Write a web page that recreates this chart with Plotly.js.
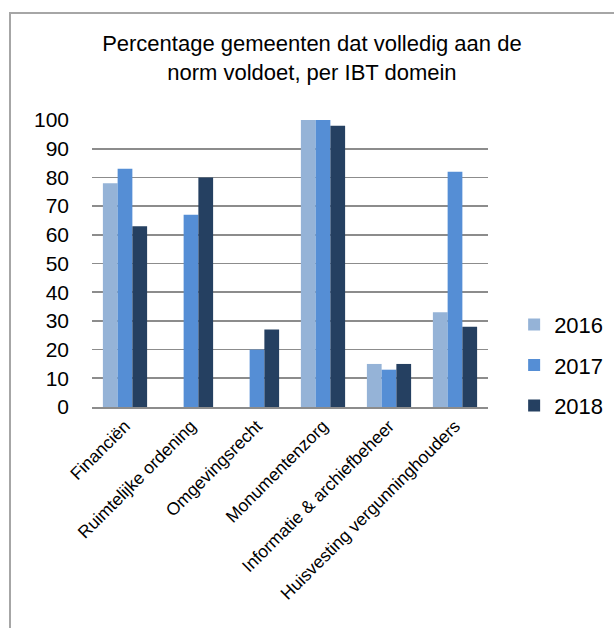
<!DOCTYPE html>
<html>
<head>
<meta charset="utf-8">
<script src="https://cdn.plot.ly/plotly-3.0.1.min.js"></script>
<style>
html,body{margin:0;padding:0;background:#fff;overflow:hidden;width:614px;height:628px;}
#chart{position:absolute;left:0;top:0;width:614px;height:628px;}
#frame{position:absolute;left:9px;top:12px;width:800px;height:800px;border-left:2px solid #a6a6a6;border-top:2px solid #a6a6a6;box-sizing:border-box;pointer-events:none;}
</style>
</head>
<body>
<div id="chart"></div>
<div id="frame"></div>
<script>
const categories = ["Financiën","Ruimtelijke ordening","Omgevingsrecht","Monumentenzorg","Informatie &amp; archiefbeheer","Huisvesting vergunninghouders"];
const years = ["2016","2017","2018"];
const values2016 = [78, null, null, 100, 15, 33];
const values2017 = [83, 67, 20, 100, 13, 82];
const values2018 = [63, 80, 27, 98, 15, 28];
const colors = ["#95b3d7","#558ed5","#254061"];

const series = [values2016, values2017, values2018];
const traces = series.map((vals, i) => ({
  type: "bar",
  name: years[i],
  x: categories,
  y: vals,
  marker: {color: colors[i], line: {width: 0}},
  legendgroup: "g" + i,
  hoverinfo: "y"
}));

const layout = {
  width: 614,
  height: 628,
  paper_bgcolor: "#ffffff",
  plot_bgcolor: "#ffffff",
  font: {family: "Liberation Sans, Arial, sans-serif", color: "#000000"},
  margin: {l: 92, r: 126, t: 120, b: 221, pad: 0, autoexpand: false},
  title: {
    text: "Percentage gemeenten dat volledig aan de<br>norm voldoet, per IBT domein",
    font: {size: 22, color: "#000000"},
    x: 0.508, xanchor: "center",
    y: 0.918, yanchor: "middle"
  },
  bargap: 0.33,
  bargroupgap: 0,
  barmode: "group",
  xaxis: {
    type: "category",
    tickangle: -45,
    tickfont: {size: 17.5},
    showgrid: false,
    showline: true,
    linecolor: "#8c8c8c",
    linewidth: 2,
    ticks: "",
    automargin: false,
    fixedrange: true
  },
  yaxis: {
    range: [0, 100],
    dtick: 10,
    tickfont: {size: 21},
    showgrid: true,
    gridcolor: "#8c8c8c",
    gridwidth: 1.6,
    zeroline: false,
    showline: false,
    ticks: "",
    ticklabelstandoff: 22,
    automargin: false,
    fixedrange: true
  },
  legend: {
    x: 1.066, xanchor: "left",
    y: 0.146, yanchor: "middle",
    font: {size: 22},
    traceorder: "grouped",
    tracegroupgap: 9,
    itemwidth: 30,
    bgcolor: "rgba(0,0,0,0)"
  },
  showlegend: true
};

Plotly.newPlot("chart", traces, layout, {displayModeBar: false, staticPlot: true});
</script>
</body>
</html>
